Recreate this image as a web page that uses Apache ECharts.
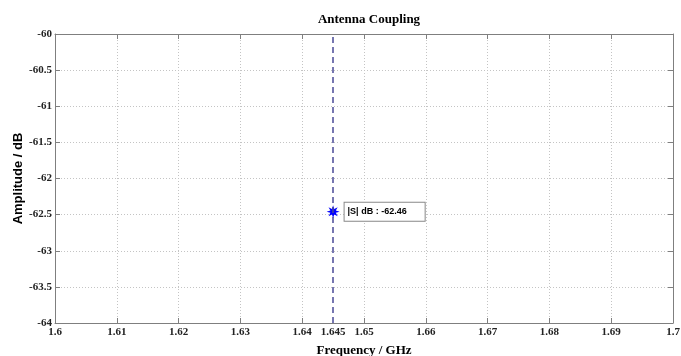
<!DOCTYPE html>
<html>
<head>
<meta charset="utf-8">
<script src="https://cdn.jsdelivr.net/npm/echarts@6/dist/echarts.min.js"></script>
<style>
  html, body { margin: 0; padding: 0; background: #fff; }
</style>
</head>
<body>
<div id="main" style="width: 681px;height:356px;"></div>
<script>
var freq = [1.645]
var amp = [-62.46]
var xTicks = [1.6, 1.61, 1.62, 1.63, 1.64, 1.65, 1.66, 1.67, 1.68, 1.69, 1.7]
var xExtraLabel = [1.645]
var yTicks = [-60, -60.5, -61, -61.5, -62, -62.5, -63, -63.5, -64]

// 8-point star, close to the matlab '*' marker
function starPath () {
  var p = []
  for (var i = 0; i < 16; i++) {
    var a = i * Math.PI / 8 - Math.PI / 2
    var r = i % 2 === 0 ? 10 : 4.5
    p.push((i === 0 ? 'M' : 'L') + (10 + r * Math.cos(a)).toFixed(2) + ',' + (10 + r * Math.sin(a)).toFixed(2))
  }
  return 'path://' + p.join(' ') + ' Z'
}

var labelValues = xTicks.concat(xExtraLabel).sort(function (a, b) { return a - b })
var frame = '#7f7f7f'
var gridLine = { show: true, lineStyle: { color: '#c4c4c4', type: [1, 2], width: 1 } }

var myChart = echarts.init(document.getElementById('main'))
var option = {
  backgroundColor: '#fff',
  animation: false,
  title: {
    text: 'Antenna Coupling',
    left: 364,
    top: 8,
    textAlign: 'center',
    textStyle: { fontFamily: 'Liberation Serif', fontWeight: 'bold', fontSize: 13, color: '#000' }
  },
  grid: { left: 55, right: 8, top: 34, bottom: 33, outerBoundsMode: 'none', containLabel: false },
  xAxis: [{
    type: 'value',
    min: 1.6,
    max: 1.7,
    name: 'Frequency / GHz',
    nameLocation: 'middle',
    nameGap: 21,
    nameTextStyle: { fontFamily: 'Liberation Serif', fontWeight: 'bold', fontSize: 13, color: '#000' },
    axisLine: { show: true, lineStyle: { color: frame, width: 1 } },
    axisTick: { show: true, inside: true, length: 5, customValues: xTicks, lineStyle: { color: frame } },
    axisLabel: {
      customValues: labelValues,
      margin: 4,
      fontFamily: 'Liberation Serif',
      fontWeight: 'bold',
      fontSize: 11,
      color: '#222',
      formatter: function (v) { return String(+v.toFixed(3)) }
    },
    splitLine: gridLine
  }, {
    type: 'value',
    position: 'top',
    min: 1.6,
    max: 1.7,
    interval: 0.01,
    axisLine: { show: true, lineStyle: { color: frame, width: 1 } },
    axisTick: { show: true, inside: true, length: 5, lineStyle: { color: frame } },
    axisLabel: { show: false },
    splitLine: { show: false }
  }],
  yAxis: [{
    type: 'value',
    min: -64,
    max: -60,
    interval: 0.5,
    name: 'Amplitude / dB',
    nameLocation: 'middle',
    nameGap: 30,
    nameMoveOverlap: false,
    nameTextStyle: { fontFamily: 'Liberation Sans', fontWeight: 'bold', fontSize: 13, color: '#000' },
    axisLine: { show: true, lineStyle: { color: frame, width: 1 } },
    axisTick: { show: true, inside: true, length: 5, lineStyle: { color: frame } },
    axisLabel: {
      margin: 3,
      fontFamily: 'Liberation Serif',
      fontWeight: 'bold',
      fontSize: 11,
      color: '#222',
      formatter: function (v) { return String(v) }
    },
    splitLine: gridLine
  }, {
    type: 'value',
    position: 'right',
    min: -64,
    max: -60,
    interval: 0.5,
    axisLine: { show: true, lineStyle: { color: frame, width: 1 } },
    axisTick: { show: true, inside: true, length: 5, lineStyle: { color: frame } },
    axisLabel: { show: false },
    splitLine: { show: false }
  }],
  series: [{
    type: 'line',
    data: freq.map(function (f, i) { return [f, amp[i]] }),
    symbol: starPath(),
    symbolSize: 13,
    itemStyle: { color: '#0000ff' },
    lineStyle: { width: 0 },
    label: {
      show: true,
      position: 'right',
      distance: 5,
      formatter: function (p) { return '|S| dB : ' + p.value[1].toFixed(2) },
      fontFamily: 'Liberation Sans',
      fontWeight: 'bold',
      fontSize: 9,
      color: '#000',
      backgroundColor: '#fff',
      borderColor: '#888',
      borderWidth: 1,
      padding: [5, 18, 4, 3]
    },
    markLine: {
      silent: true,
      symbol: 'none',
      precision: 3,
      label: { show: false },
      lineStyle: { color: '#4a4a96', type: [6, 4], width: 1.5 },
      data: freq.map(function (f) { return { xAxis: f } })
    }
  }]
}
myChart.setOption(option)
</script>
</body>
</html>
